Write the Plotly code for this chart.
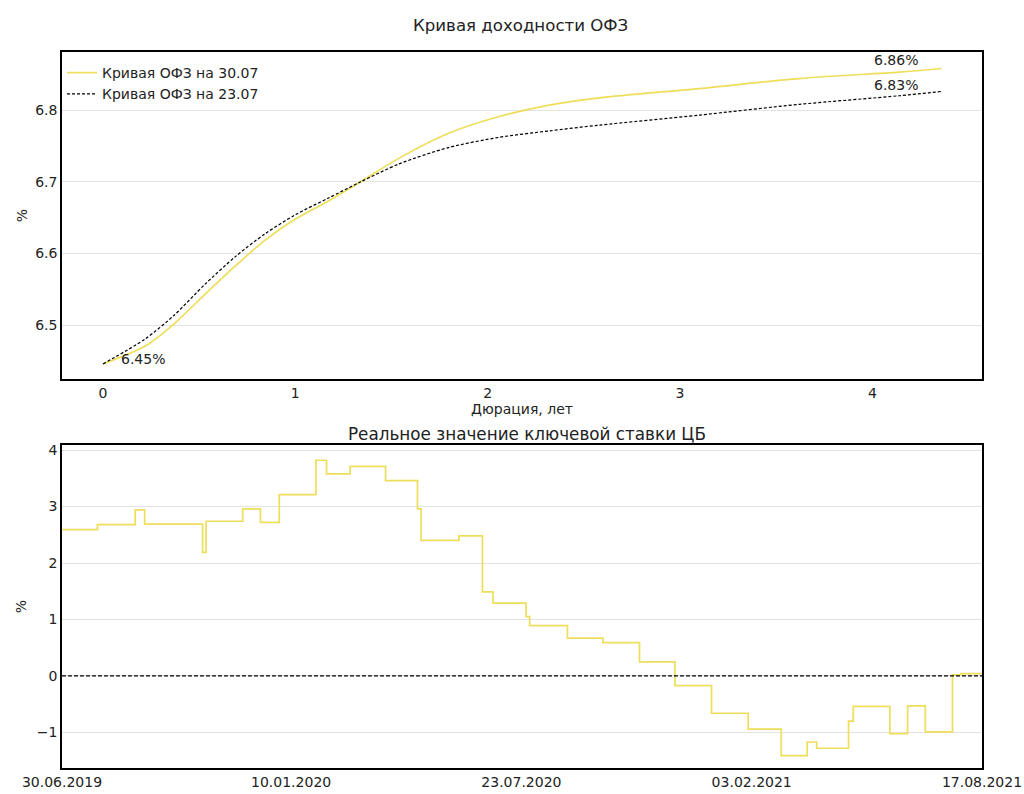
import plotly.graph_objects as go
from plotly.subplots import make_subplots

# ---- Top chart data: OFZ yield curve ----
duration = [0, 0.22, 0.37, 0.53, 0.69, 0.84, 1.0, 1.17, 1.34, 1.54, 1.80, 2.06, 2.32, 2.58, 3.10, 3.62, 4.14, 4.36]
ofz_3007 = [6.446, 6.471, 6.502, 6.543, 6.583, 6.618, 6.648, 6.673, 6.700, 6.733, 6.768, 6.791, 6.807, 6.817, 6.830, 6.844, 6.853, 6.858]
ofz_2307 = [6.446, 6.481, 6.514, 6.557, 6.596, 6.627, 6.654, 6.677, 6.700, 6.725, 6.748, 6.762, 6.771, 6.779, 6.793, 6.808, 6.820, 6.826]

# ---- Bottom chart data: real key rate ----
rate_dates = ["2019-06-30", "2019-07-30", "2019-08-31", "2019-09-08", "2019-10-27", "2019-10-30",
              "2019-11-30", "2019-12-15", "2019-12-31", "2020-01-31", "2020-02-09", "2020-02-29",
              "2020-03-30", "2020-04-26", "2020-04-29", "2020-05-31", "2020-06-20", "2020-06-29",
              "2020-07-27", "2020-07-30", "2020-08-31", "2020-09-30", "2020-10-31", "2020-11-30",
              "2020-12-31", "2021-01-31", "2021-02-28", "2021-03-22", "2021-03-30", "2021-04-26",
              "2021-04-30", "2021-05-31", "2021-06-15", "2021-06-30", "2021-07-23", "2021-07-30",
              "2021-08-17"]
real_rate = [2.59, 2.68, 2.94, 2.69, 2.19, 2.74,
             2.96, 2.72, 3.21, 3.82, 3.58, 3.71,
             3.46, 2.96, 2.40, 2.48, 1.49, 1.29,
             1.05, 0.89, 0.67, 0.59, 0.25, -0.17,
             -0.66, -0.94, -1.41, -1.17, -1.28, -0.80,
             -0.54, -1.02, -0.53, -0.99, 0.02, 0.04,
             0.04]

date_ticks = ["2019-06-30", "2020-01-10", "2020-07-23", "2021-02-03", "2021-08-17"]
date_ticktext = ["30.06.2019", "10.01.2020", "23.07.2020", "03.02.2021", "17.08.2021"]

YELLOW = "rgb(238,222,90)"
FONT = "DejaVu Sans"
TXT = "#222"

fig = make_subplots(rows=2, cols=1, vertical_spacing=0.0922,
                    row_heights=[0.4567, 0.4511])

fig.add_trace(go.Scatter(x=duration, y=ofz_3007, mode="lines", line_shape="spline",
                         line=dict(color=YELLOW, width=1.7, smoothing=0.8), name="Кривая ОФЗ на 30.07"), row=1, col=1)
fig.add_trace(go.Scatter(x=duration, y=ofz_2307, mode="lines", line_shape="spline",
                         line=dict(color="black", width=1.2, dash="3px,2px", smoothing=0.8),
                         name="Кривая ОФЗ на 23.07"), row=1, col=1)

fig.add_trace(go.Scatter(x=rate_dates, y=real_rate, mode="lines", line_shape="hv",
                         line=dict(color=YELLOW, width=1.7), showlegend=False), row=2, col=1)

# zero line
fig.add_hline(y=0, line=dict(color="black", width=1.3, dash="4px,2px"), row=2, col=1)

axis_common = dict(showline=True, linecolor="black", linewidth=1.5, mirror=True, automargin=False,
                   ticks="", tickfont=dict(family=FONT, size=14, color=TXT), zeroline=False)

fig.update_xaxes(range=[-0.213, 4.57], tickvals=[0, 1, 2, 3, 4], showgrid=False,
                 title=dict(text="Дюрация, лет", font=dict(family=FONT, size=14, color=TXT), standoff=0),
                 **axis_common, row=1, col=1)
fig.update_yaxes(range=[6.425, 6.881], tickvals=[6.5, 6.6, 6.7, 6.8], showgrid=True,
                 gridcolor="#e3e3e3", gridwidth=1,
                 title=dict(text="%", font=dict(family=FONT, size=14, color=TXT), standoff=4),
                 **axis_common, row=1, col=1)

fig.update_xaxes(type="date", range=["2019-06-30", "2021-08-17"], tickmode="array",
                 tickvals=date_ticks, ticktext=date_ticktext, showgrid=False,
                 **axis_common, row=2, col=1)
fig.update_yaxes(range=[-1.63, 4.09], tickvals=[-1, 0, 1, 2, 3, 4], ticktext=["−1", "0", "1", "2", "3", "4"],
                 showgrid=True, gridcolor="#e3e3e3", gridwidth=1,
                 title=dict(text="%", font=dict(family=FONT, size=14, color=TXT), standoff=7),
                 **axis_common, row=2, col=1)

# value labels
fig.add_annotation(x=duration[-1], y=ofz_3007[-1], xref="x", yref="y", text=f"{ofz_3007[-1]:.2f}%",
                   showarrow=False, xanchor="right", yanchor="bottom", xshift=-22, yshift=-2,
                   font=dict(family=FONT, size=14, color=TXT))
fig.add_annotation(x=duration[-1], y=ofz_2307[-1], xref="x", yref="y", text=f"{ofz_2307[-1]:.2f}%",
                   showarrow=False, xanchor="right", yanchor="bottom", xshift=-22, yshift=-4,
                   font=dict(family=FONT, size=14, color=TXT))
fig.add_annotation(x=duration[0], y=ofz_3007[0], xref="x", yref="y", text=f"{ofz_3007[0]:.2f}%",
                   showarrow=False, xanchor="left", yanchor="middle", xshift=16, yshift=5,
                   font=dict(family=FONT, size=14, color=TXT))

# titles
fig.add_annotation(x=0.498, y=1, xref="paper", yref="paper", text="Кривая доходности ОФЗ",
                   showarrow=False, yanchor="bottom", yshift=15, font=dict(family=FONT, size=16.6, color=TXT))
fig.add_annotation(x=0.505, y=0.4511, xref="paper", yref="paper", text="Реальное значение ключевой ставки ЦБ",
                   showarrow=False, yanchor="bottom", yshift=-1, font=dict(family=FONT, size=16.8, color=TXT))

fig.update_layout(
    width=1024, height=794,
    margin=dict(l=62, r=42, t=52, b=26),
    paper_bgcolor="white", plot_bgcolor="white",
    font=dict(family=FONT, size=14, color=TXT),
    legend=dict(x=0.0, y=0.993, xanchor="left", yanchor="top", bgcolor="rgba(0,0,0,0)",
                font=dict(family=FONT, size=14, color=TXT), tracegroupgap=0),
)

fig.write_html("out.html", config={"displayModeBar": False},
               post_script="document.body.style.margin='0';document.body.style.overflow='hidden';")
